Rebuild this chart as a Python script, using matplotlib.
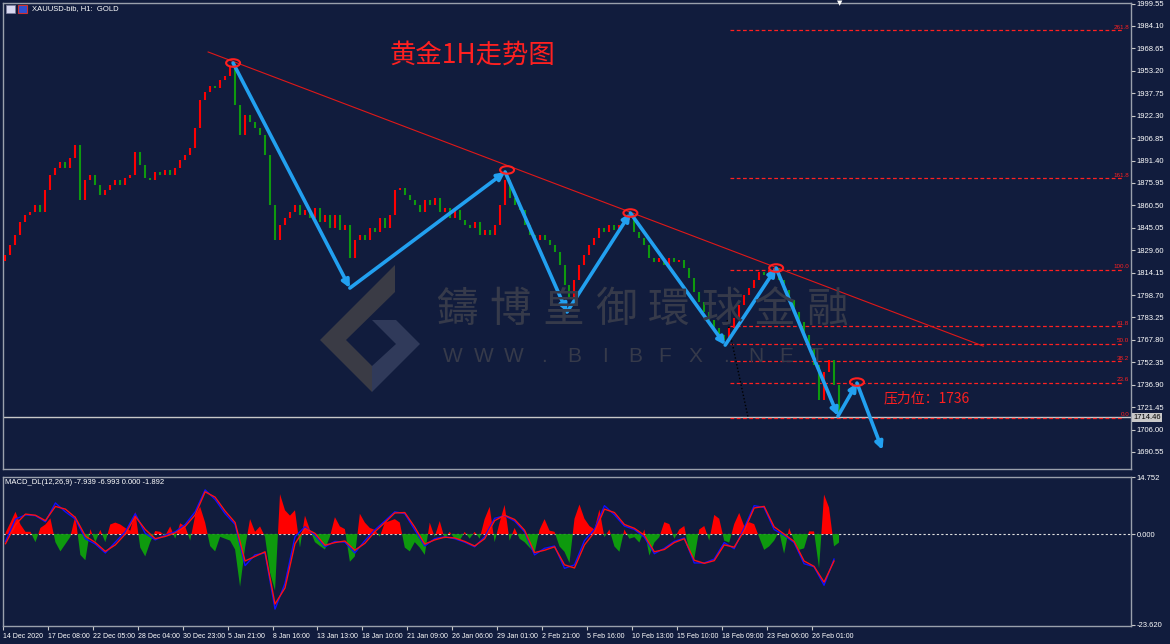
import numpy as np
import matplotlib
matplotlib.use('Agg')
import matplotlib.pyplot as plt
from matplotlib.patches import Ellipse, Polygon, Rectangle

plt.rcParams['font.family'] = ['Liberation Sans', 'DejaVu Sans', 'Noto Sans CJK SC']

BG = '#111c3d'
UP = '#ff0000'
DOWN = '#0e9a0e'
ARROW = '#22a0f0'

# aggregated H1 closes (each bar ~ 2 real H1 bars)
closes = [
    1826.3, 1833.2, 1840.1, 1849.0, 1853.8, 1855.9, 1860.7, 1855.9, 1871.1, 1881.4,
    1886.2, 1890.4, 1886.2, 1893.1, 1902.1, 1864.2, 1878.0, 1881.4, 1874.5, 1867.6,
    1871.1, 1874.5, 1878.0, 1874.5, 1879.3, 1881.4, 1897.3, 1888.3, 1879.3, 1878.0,
    1883.5, 1881.4, 1884.9, 1881.4, 1886.2, 1891.7, 1895.2, 1900.0, 1913.8, 1933.1,
    1938.6, 1942.8, 1941.4, 1946.9, 1949.6, 1956.5, 1929.7, 1909.0, 1922.8, 1917.9,
    1913.8, 1909.0, 1895.2, 1860.7, 1836.6, 1847.0, 1851.8, 1855.9, 1860.7, 1853.8,
    1857.3, 1851.8, 1858.7, 1849.0, 1853.8, 1844.9, 1853.8, 1843.5, 1847.0, 1824.2,
    1836.6, 1840.1, 1836.6, 1844.9, 1842.1, 1851.8, 1844.9, 1853.8, 1871.1, 1872.4,
    1867.6, 1864.2, 1860.7, 1855.9, 1864.2, 1860.7, 1865.6, 1855.9, 1858.7, 1851.8,
    1857.3, 1850.4, 1847.0, 1844.9, 1849.0, 1840.1, 1843.5, 1840.1, 1847.0, 1860.7,
    1878.0, 1865.6, 1860.7, 1857.3, 1847.0, 1840.1, 1836.6, 1840.1, 1836.6, 1833.2,
    1828.3, 1819.4, 1805.6, 1796.6, 1809.0, 1819.4, 1826.3, 1833.2, 1838.0, 1844.9,
    1842.1, 1847.0, 1843.5, 1847.0, 1850.4, 1851.8, 1842.1, 1838.0, 1833.2, 1824.2,
    1821.5, 1824.2, 1819.4, 1824.2, 1821.5, 1822.8, 1817.3, 1810.4, 1800.8, 1793.9,
    1787.0, 1781.5, 1776.0, 1771.1, 1767.7, 1776.0, 1782.9, 1791.8, 1798.7, 1803.5,
    1809.0, 1814.6, 1812.5, 1815.9, 1817.3, 1809.0, 1802.2, 1795.3, 1787.0, 1780.1,
    1771.1, 1762.2, 1750.5, 1726.3, 1745.6, 1753.9, 1736.7, 1716.0,
]
first_open = 1822.0
last_price = 1714.46

macd_hist = [
    0.3, 3.0, 5.8, 2.5, 0.6, 0.6, -2.1, 1.6, 2.5, 4.1,
    -2.1, -4.5, -2.6, -0.7, 4.8, -5.4, -6.8, 1.3, -2.1, 1.1,
    -2.1, 2.5, 3.0, 2.5, 1.6, 0.9, 5.8, -3.5, -5.8, -2.1,
    0.8, 0.6, -0.4, 2.0, -1.2, 2.8, 2.0, -1.7, 4.8, 7.1,
    3.0, -3.1, -4.5, -0.7, -1.2, -1.7, -4.0, -13.7, -3.5, 3.9,
    0.6, 2.0, -0.7, -10.0, -14.7, 10.4, 6.2, 4.8, 6.2, -3.5,
    4.8, 1.1, -2.1, -3.1, -4.0, -0.7, 4.4, 2.0, 1.3, -7.2,
    -5.8, 5.3, 3.0, 1.6, 1.1, -0.7, 3.0, 3.4, 3.9, 3.0,
    -3.5, -4.5, -2.1, -3.5, -5.4, 3.0, -0.7, 3.4, -1.2, 0.6,
    -1.2, -1.7, 0.6, -1.2, 0.6, -1.2, 3.9, 7.1, -2.1, 3.0,
    7.6, -1.7, 1.6, -1.2, -2.1, -3.5, -4.9, 1.1, 3.9, 0.9,
    0.6, -3.2, -4.6, -7.5, 4.0, 7.7, 4.0, 2.1, 1.2, 6.4,
    -0.8, 1.2, -3.2, -4.6, 1.2, -1.2, -0.8, -2.2, 1.2, -5.6,
    -2.2, -0.8, 3.1, 2.6, -1.2, 1.2, 2.1, -4.6, -6.5, 1.2,
    2.1, -1.7, 5.0, 4.0, -1.7, -2.2, 2.6, 5.5, 2.1, 3.1,
    2.6, -0.8, -4.1, -3.2, -1.7, 0.7, -5.1, 1.6, -1.7, -4.1,
    -3.7, 0.7, 0.7, -8.9, 10.3, 6.9, -3.2, -2.2,
]

# MACD lines sampled every second bar
macd_main = [
    -1.9, 3.9, 5.0, 4.8, 3.2, 8.1, 5.8, 3.9, -1.2, -2.6,
    -4.9, -2.1, 0.6, 5.3, 0.2, -1.5, -0.3, 0.6, 2.5, 5.8,
    11.5, 9.0, 5.3, 2.5, -8.2, -5.4, -4.9, -19.5, -12.8, -0.7,
    1.9, -0.3, -3.3, -1.9, -2.1, -4.9, -1.7, 1.1, 3.4, 5.8,
    5.3, 1.1, -3.1, -1.2, -0.7, -1.2, -2.1, -3.3, -0.7, 4.1,
    4.8, 3.4, 0.6, -5.4, -3.7, -3.1, -8.9, -8.0, -1.7, 1.2,
    7.4, 5.0, 2.1, 1.2, -0.8, -5.1, -3.7, -1.9, -1.0, -7.5,
    -7.5, -6.5, -2.2, -3.8, 1.6, 7.4, 6.9, 1.2, -0.3, -2.2,
    -7.7, -8.5, -13.3, -6.5,
]
macd_signal = [
    -2.5, 2.5, 5.2, 4.9, 3.5, 7.2, 6.5, 4.3, -0.5, -2.2,
    -4.5, -2.8, 0.0, 4.6, 1.2, -1.2, -0.6, 0.3, 2.0, 5.0,
    11.0, 9.6, 6.0, 3.0, -7.0, -5.8, -4.6, -18.2, -14.0, -2.5,
    1.5, 0.2, -2.9, -2.2, -1.8, -4.2, -2.4, 0.6, 3.0, 5.5,
    5.6, 1.8, -2.6, -1.5, -0.8, -1.0, -1.9, -3.1, -1.2, 3.5,
    4.9, 3.8, 1.0, -4.8, -4.2, -3.3, -8.0, -8.8, -2.8, 0.5,
    6.5, 5.6, 2.5, 1.5, -0.3, -4.6, -4.0, -2.2, -1.2, -6.8,
    -7.6, -6.9, -2.8, -3.4, 0.9, 6.8, 7.2, 1.9, 0.0, -1.9,
    -7.0, -8.4, -12.5, -7.0,
]

price_ticks = [1999.55, 1984.10, 1968.65, 1953.20, 1937.75, 1922.30, 1906.85,
               1891.40, 1875.95, 1860.50, 1845.05, 1829.60, 1814.15, 1798.70,
               1783.25, 1767.80, 1752.35, 1736.90, 1721.45, 1706.00, 1690.55]
macd_ticks = [14.752, 0.0, -23.620]
macd_tick_labels = ['14.752', '0.000', '-23.620']

date_pos = [0, 9, 18, 27, 36, 45, 54, 63, 72, 81, 90, 99, 108, 117, 126, 135, 144, 153, 162]
date_labels = ['14 Dec 2020', '17 Dec 08:00', '22 Dec 05:00', '28 Dec 04:00', '30 Dec 23:00',
               '5 Jan 21:00', '8 Jan 16:00', '13 Jan 13:00', '18 Jan 10:00', '21 Jan 09:00',
               '26 Jan 06:00', '29 Jan 01:00', '2 Feb 21:00', '5 Feb 16:00', '10 Feb 13:00',
               '15 Feb 10:00', '18 Feb 09:00', '23 Feb 06:00', '26 Feb 01:00']

# fibonacci retracement
fib_levels = [0.0, 23.6, 38.2, 50.0, 61.8, 100.0, 161.8, 261.8]
fib_low, fib_high = 1714.0, 1816.0
fib_x0, fib_x1 = 145.7, 224.2

# trend line through the swing highs
trend_x = [41.1, 196.4]
trend_y = [1966.2, 1763.5]

# zigzag path of the blue arrows
zz_x = [46.1, 69.5, 100.6, 113.0, 125.7, 144.7, 154.9, 167.3, 171.1, 176.2]
zz_y = [1958.6, 1803.5, 1883.5, 1787.0, 1855.2, 1764.2, 1817.3, 1715.3, 1738.0, 1691.9]

# red circles on the highs
ring_x = [46.1, 101.0, 125.7, 154.9, 171.1]
ring_y = [1958.6, 1884.9, 1855.2, 1817.3, 1738.7]

W, H = 1170, 644
fig = plt.figure(figsize=(W / 100, H / 100), dpi=100, facecolor=BG)
ax = fig.add_axes([3 / W, 1 - 469 / H, 1128 / W, 466 / H])
ax2 = fig.add_axes([3 / W, 1 - 626 / H, 1128 / W, 149 / H])

for a in (ax, ax2):
    a.set_facecolor(BG)
    for s in a.spines.values():
        s.set_color('#9aa0ac')
        s.set_linewidth(1)
    a.set_xlim(0, 226)

# ---- watermark (behind everything)
wm = '#363a4a'
for k, ch in enumerate('鑄博皇御環球金融'):
    fig.text((457 + k * 53) / W, 1 - 310 / H, ch, color=wm, fontsize=30,
             family=['Noto Sans CJK TC', 'DejaVu Sans'], ha='center', va='center', zorder=0)
for k, ch in enumerate('WWW.BIBFX.NET'):
    fig.text((453 + k * 30.3) / W, 1 - 357 / H, ch, color=wm, fontsize=15,
             ha='center', va='center', zorder=0)


def fpts(pts):
    return [(x / W, 1 - y / H) for x, y in pts]


fig.patches.append(Polygon(fpts([(395, 265), (320, 340), (372, 392), (372, 366), (346, 340), (395, 292)]),
                           closed=True, fc='#3a3b45', ec='none', transform=fig.transFigure, zorder=0))
fig.patches.append(Polygon(fpts([(372, 392), (420, 344), (396, 320), (372, 320), (396, 344), (372, 366)]),
                           closed=True, fc='#303a5a', ec='none', transform=fig.transFigure, zorder=0))

# ---- candles
xs = np.arange(len(closes)) + 0.5
opens = [first_open] + closes[:-1]
cols = [UP if c >= o else DOWN for o, c in zip(opens, closes)]
ax.vlines(xs, opens, closes, colors=cols, lw=1.5, zorder=3)

ax.set_ylim(1678.8, 1999.95)

# current price line
ax.axhline(last_price, color='#c8c8c8', lw=1, zorder=2)

# trend line
ax.plot(trend_x, trend_y, color='#e01818', lw=0.8, zorder=4)

# fibonacci levels
for lv in fib_levels:
    p = fib_low + (fib_high - fib_low) * lv / 100
    ax.hlines(p, fib_x0, fib_x1, colors='#ff2020', linestyles=(0, (3, 2)), lw=0.9, zorder=2)
    ax.text(225.6, p + 0.6, f'{lv:.1f}', color='#ff2020', fontsize=4.5, ha='right', va='bottom')
ax.plot([145.1, 149.3], [1781.5, 1714.0], color='black', ls=(0, (1, 1.5)), lw=1, zorder=2)

# zigzag arrows
for i in range(len(zz_x) - 1):
    ax.annotate('', xy=(zz_x[i + 1], zz_y[i + 1]), xytext=(zz_x[i], zz_y[i]),
                arrowprops=dict(arrowstyle='-|>', color=ARROW, lw=2.6, mutation_scale=11,
                                shrinkA=0, shrinkB=0), zorder=5)

for x, y in zip(ring_x, ring_y):
    ax.add_patch(Ellipse((x, y), 2.8, 5.2, fill=False, ec='#ff2020', lw=1.5, zorder=6))

# axis ticks right side
ax.yaxis.tick_right()
ax.set_yticks(price_ticks)
ax.set_yticklabels([f'{v:.2f}' for v in price_ticks])
ax.tick_params(axis='y', colors='#c8c8c8', labelcolor='white', labelsize=5.5, length=3, pad=1)
ax.set_xticks([])

ax.text(1.002, last_price, f'{last_price:.2f}', transform=ax.get_yaxis_transform(),
        fontsize=5.5, color='black', va='center', ha='left',
        bbox=dict(boxstyle='square,pad=0.15', fc='#c8c8c8', ec='none'))

# ---- MACD panel
hx = np.arange(len(macd_hist)) + 0.5
hv = np.array(macd_hist)
ax2.fill_between(hx, hv, 0, where=hv > 0, interpolate=True, color=UP, lw=0, zorder=2)
ax2.fill_between(hx, hv, 0, where=hv < 0, interpolate=True, color=DOWN, lw=0, zorder=2)
mx = np.arange(0, 2 * len(macd_main), 2) + 0.5
ax2.plot(mx, macd_main, color='#1010ff', lw=1, zorder=3)
ax2.plot(mx, macd_signal, color='#ff1010', lw=1, zorder=4)
ax2.axhline(0, color='#e0e0e0', ls=(0, (2, 2)), lw=0.8, zorder=1)
ax2.set_ylim(-23.9, 14.85)

ax2.yaxis.tick_right()
ax2.set_yticks(macd_ticks)
ax2.set_yticklabels(macd_tick_labels)
ax2.tick_params(axis='y', colors='#c8c8c8', labelcolor='white', labelsize=5.5, length=3, pad=1)
ax2.set_xticks(date_pos)
ax2.set_xticklabels(date_labels)
ax2.tick_params(axis='x', colors='#c8c8c8', labelcolor='white', labelsize=5.0, length=3, pad=2)
for t in ax2.get_xticklabels():
    t.set_ha('left')

ax2.text(0.002, 0.985, 'MACD_DL(12,26,9) -7.939 -6.993 0.000 -1.892', transform=ax2.transAxes,
         color='white', fontsize=5.5, va='top', ha='left')

# ---- header and annotations
fig.text(32 / W, 1 - 9 / H, 'XAUUSD-bib, H1:  GOLD', color='white', fontsize=5.5, va='center')
fig.patches.append(Rectangle((6 / W, 1 - 13 / H), 9 / W, 8 / H, fc='#d8d8f0', ec='#8080a0',
                             lw=0.5, transform=fig.transFigure))
fig.patches.append(Rectangle((18 / W, 1 - 13 / H), 9 / W, 8 / H, fc='#3050d0', ec='#d03030',
                             lw=0.8, transform=fig.transFigure))
fig.text(840 / W, 1 - 3 / H, '▼', color='white', fontsize=5, ha='center', va='center',
         family=['DejaVu Sans'])

fig.text(472 / W, 1 - 55 / H, '黄金1H走势图', color='#ff2020', fontsize=19,
         family=['Noto Sans CJK SC', 'DejaVu Sans'], ha='center', va='center')
fig.text(884 / W, 1 - 398 / H, '压力位：1736', color='#ff2020', fontsize=10,
         family=['Noto Sans CJK SC', 'DejaVu Sans'], ha='left', va='center')

fig.savefig('out.png', dpi=100, facecolor=BG)
